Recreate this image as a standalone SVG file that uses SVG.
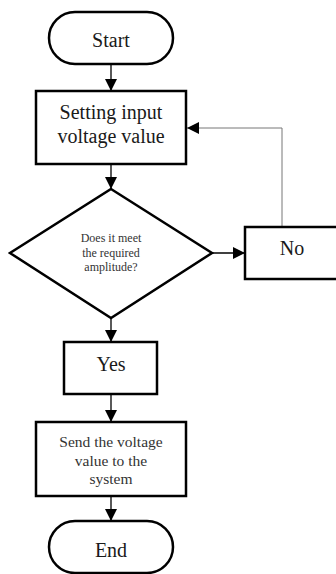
<svg xmlns="http://www.w3.org/2000/svg" width="336" height="574" viewBox="0 0 336 574">
  <style>
    .shape { fill: #fff; stroke: #000; stroke-width: 2.5; }
    .big { font-family: "Liberation Serif", "Times New Roman", serif; font-size: 20px; fill: #1a1a1a; text-anchor: middle; }
    .mid { font-family: "Liberation Serif", "Times New Roman", serif; font-size: 15.5px; fill: #333; text-anchor: middle; }
    .small { font-family: "Liberation Serif", "Times New Roman", serif; font-size: 12px; fill: #333; text-anchor: middle; }
    .conn { fill: none; stroke: #000; stroke-width: 1.3; }
    .back { fill: none; stroke: #777; stroke-width: 1; }
  </style>
  <defs>
    <marker id="arrow" markerUnits="userSpaceOnUse" markerWidth="12" markerHeight="12" refX="12" refY="6" orient="auto">
      <path d="M0,0 L12,6 L0,12 z" fill="#000"/>
    </marker>
  </defs>
  <rect width="336" height="574" fill="#fff"/>

  <g id="connectors">
    <line class="conn" x1="111" y1="64" x2="111" y2="91" marker-end="url(#arrow)"/>
    <line class="conn" x1="111" y1="164" x2="111" y2="189" marker-end="url(#arrow)"/>
    <line class="conn" x1="212" y1="253" x2="245" y2="253" marker-end="url(#arrow)"/>
    <polyline class="back" points="282,227 282,128 187,128" marker-end="url(#arrow)"/>
    <line class="conn" x1="111" y1="318" x2="111" y2="342" marker-end="url(#arrow)"/>
    <line class="conn" x1="111" y1="394" x2="111" y2="422" marker-end="url(#arrow)"/>
    <line class="conn" x1="111" y1="496" x2="111" y2="521" marker-end="url(#arrow)"/>
  </g>

  <g id="start">
    <rect class="shape" x="49" y="12" width="124" height="52" rx="26" ry="26"/>
    <text class="big" x="111" y="47">Start</text>
  </g>

  <g id="set-input">
    <rect class="shape" x="36" y="91" width="150" height="73"/>
    <text class="big" x="111" y="119">Setting input</text>
    <text class="big" x="111" y="143">voltage value</text>
  </g>

  <g id="decision">
    <polygon class="shape" points="111,189 212,253 111,318 10,253"/>
    <text class="small" x="111" y="242">Does it meet</text>
    <text class="small" x="111" y="257">the required</text>
    <text class="small" x="111" y="271">amplitude?</text>
  </g>

  <g id="no">
    <rect class="shape" x="245" y="227" width="100" height="52"/>
    <text class="big" x="292" y="255">No</text>
  </g>

  <g id="yes">
    <rect class="shape" x="64" y="342" width="93" height="52"/>
    <text class="big" x="111" y="371">Yes</text>
  </g>

  <g id="send">
    <rect class="shape" x="36" y="422" width="150" height="74"/>
    <text class="mid" x="111" y="447">Send the voltage</text>
    <text class="mid" x="111" y="466">value to the</text>
    <text class="mid" x="111" y="484">system</text>
  </g>

  <g id="end">
    <rect class="shape" x="49" y="521" width="124" height="52" rx="26" ry="26"/>
    <text class="big" x="111" y="557">End</text>
  </g>
</svg>
